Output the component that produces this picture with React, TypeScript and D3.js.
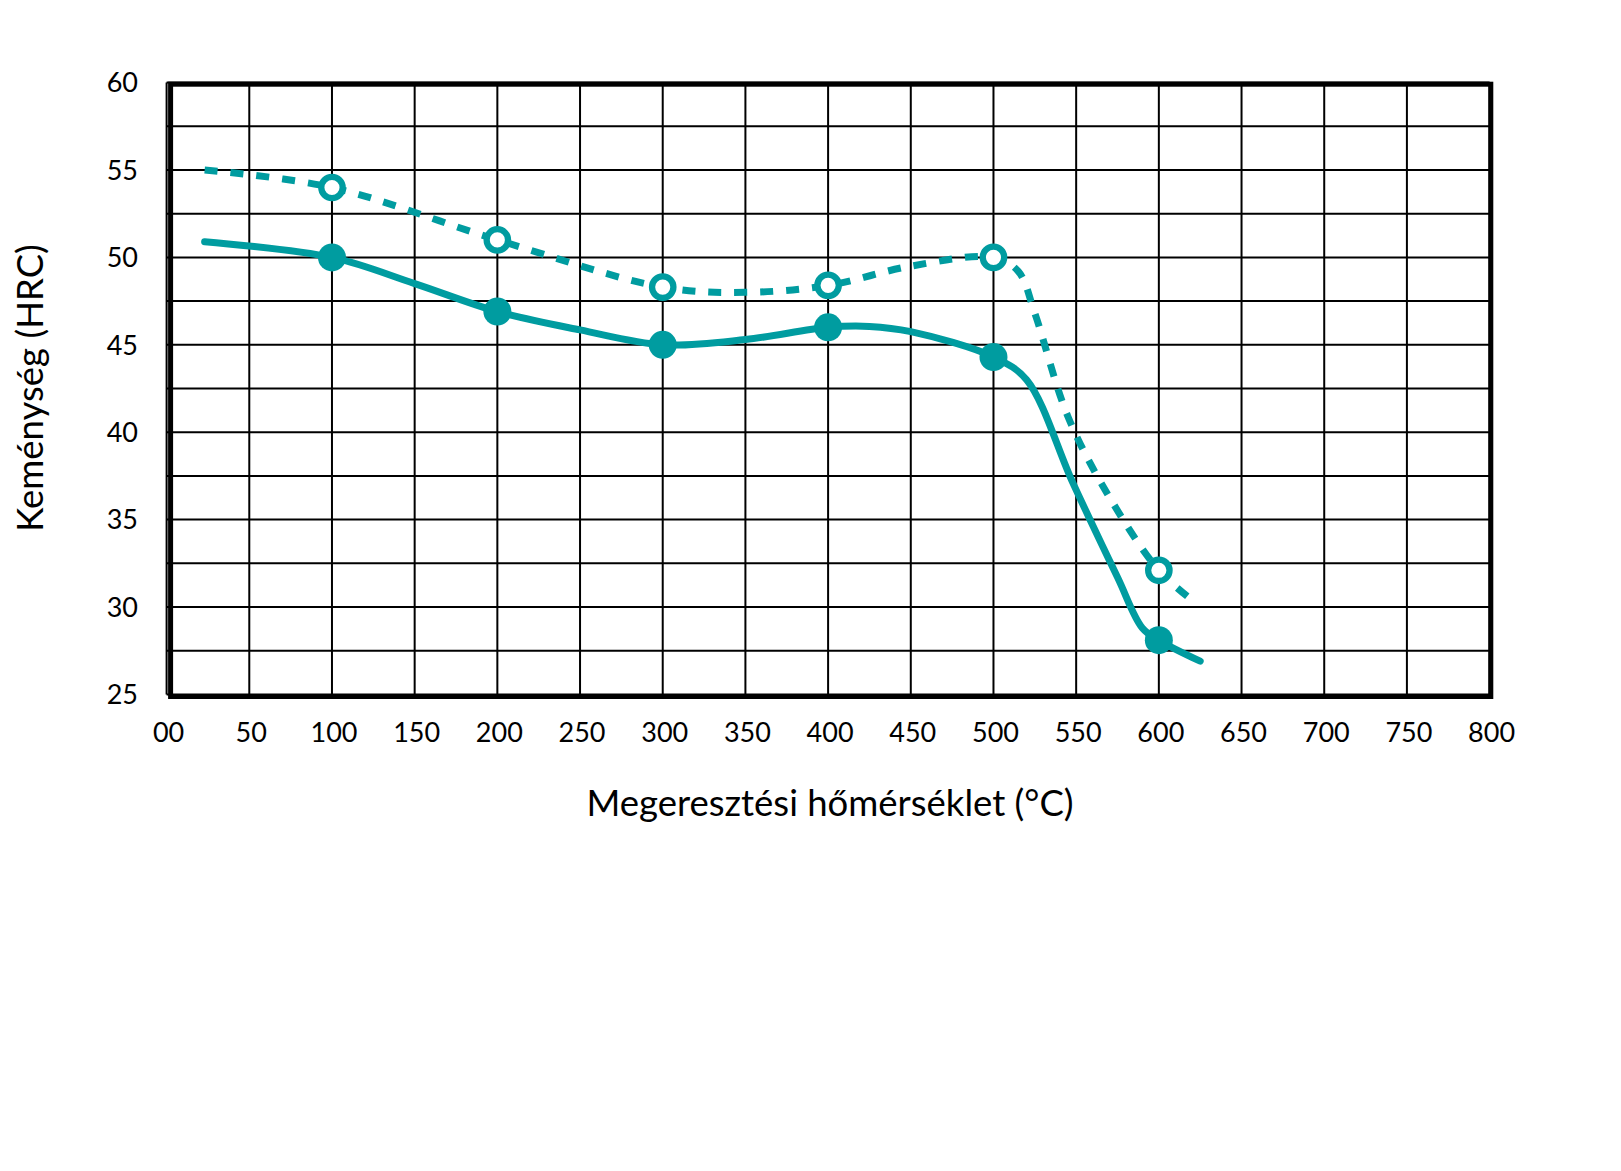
import React from 'react';
import { scaleLinear, line, curveCatmullRom, range } from 'd3';

// temperatures where the measured points sit
const markerTemps = [100, 200, 300, 400, 500, 600];
const hardnessA = [50, 46.9, 45, 46, 44.3, 28.1]; // solid, filled dots
const hardnessB = [54, 51, 48.3, 48.4, 50, 32.1]; // dashed, open dots

// curve (temp, HRC)
const curveA: [number, number][] = [
  [23, 50.9], [100, 50], [150, 48.5], [200, 46.9], [250, 45.85], [300, 45],
  [350, 45.3], [400, 46], [425, 46.05], [450, 45.75], [500, 44.3], [520, 43],
  [548, 37.1], [575, 31.7], [590, 28.8], [600, 28.1], [625, 26.9],
];
const curveB: [number, number][] = [
  [23, 55], [100, 54], [200, 51], [300, 48.3], [350, 48], [400, 48.4],
  [450, 49.5], [500, 50], [515, 49.2], [525, 46.8], [545, 40.9], [570, 36.3],
  [600, 32.1], [620, 30.4],
];

const xTicks = range(0, 801, 50);
const xTickLabels = xTicks.map(t => (t === 0 ? '00' : String(t)));
const yTicks = [25, 30, 35, 40, 45, 50, 55, 60];
const yGrid = range(25, 60.01, 2.5);

const teal = '#009ca0';
const font = 'Lato, "Open Sans", sans-serif';

const dims = { width: 1621, height: 1171, left: 166.6, right: 1489.6, top: 82.6, bottom: 694.4 };

const App: React.FC = () => {
  const x = scaleLinear().domain([0, 800]).range([dims.left, dims.right]);
  const y = scaleLinear().domain([25, 60]).range([dims.bottom, dims.top]);

  const path = line<[number, number]>()
    .x(d => x(d[0]))
    .y(d => y(d[1]))
    .curve(curveCatmullRom.alpha(0.5));

  return (
    <svg width={dims.width} height={dims.height}
      style={{ position: 'absolute', left: 0, top: 0, display: 'block', background: '#fff' }}>
      {/* grid */}
      <g stroke="#000" strokeWidth={2}>
        {xTicks.map(t => (
          <line key={'vx' + t} x1={x(t)} x2={x(t)} y1={dims.top} y2={dims.bottom} />
        ))}
        {yGrid.map(t => (
          <line key={'hy' + t} x1={dims.left} x2={dims.right} y1={y(t)} y2={y(t)} />
        ))}
      </g>
      {/* the frame sits a little inside/below the scale range in the original */}
      <rect x={dims.left + 4} y={dims.top + 1.6} width={dims.right - dims.left - 2.8}
        height={dims.bottom - dims.top + 0.5} fill="none" stroke="#000" strokeWidth={5} />

      {/* curves */}
      <path d={path(curveB)!} fill="none" stroke={teal} strokeWidth={7} strokeDasharray="13 13" />
      <path d={path(curveA)!} fill="none" stroke={teal} strokeWidth={7} strokeLinecap="round" />

      {markerTemps.map((t, i) => (
        <circle key={'b' + t} cx={x(t)} cy={y(hardnessB[i])} r={10.7} fill="#fff" stroke={teal} strokeWidth={6.3} />
      ))}
      {markerTemps.map((t, i) => (
        <circle key={'a' + t} cx={x(t)} cy={y(hardnessA[i])} r={14} fill={teal} />
      ))}

      {/* tick labels */}
      <g fontFamily={font} fontSize={27} fill="#000">
        {yTicks.map(t => (
          <text key={'yl' + t} x={138} y={y(t) + 3} textAnchor="end" dominantBaseline="middle">{t}</text>
        ))}
        {xTicks.map((t, i) => (
          <text key={'xl' + t} x={x(t) + 2} y={742} textAnchor="middle">{xTickLabels[i]}</text>
        ))}
      </g>

      <text x={830} y={816} textAnchor="middle" fontFamily={font} fontSize={36.5} fill="#000">
        Megeresztési hőmérséklet (°C)
      </text>
      <text transform={`translate(43, 388) rotate(-90)`} textAnchor="middle" fontFamily={font} fontSize={36.5} fill="#000">
        Keménység (HRC)
      </text>
    </svg>
  );
};

export default App;
